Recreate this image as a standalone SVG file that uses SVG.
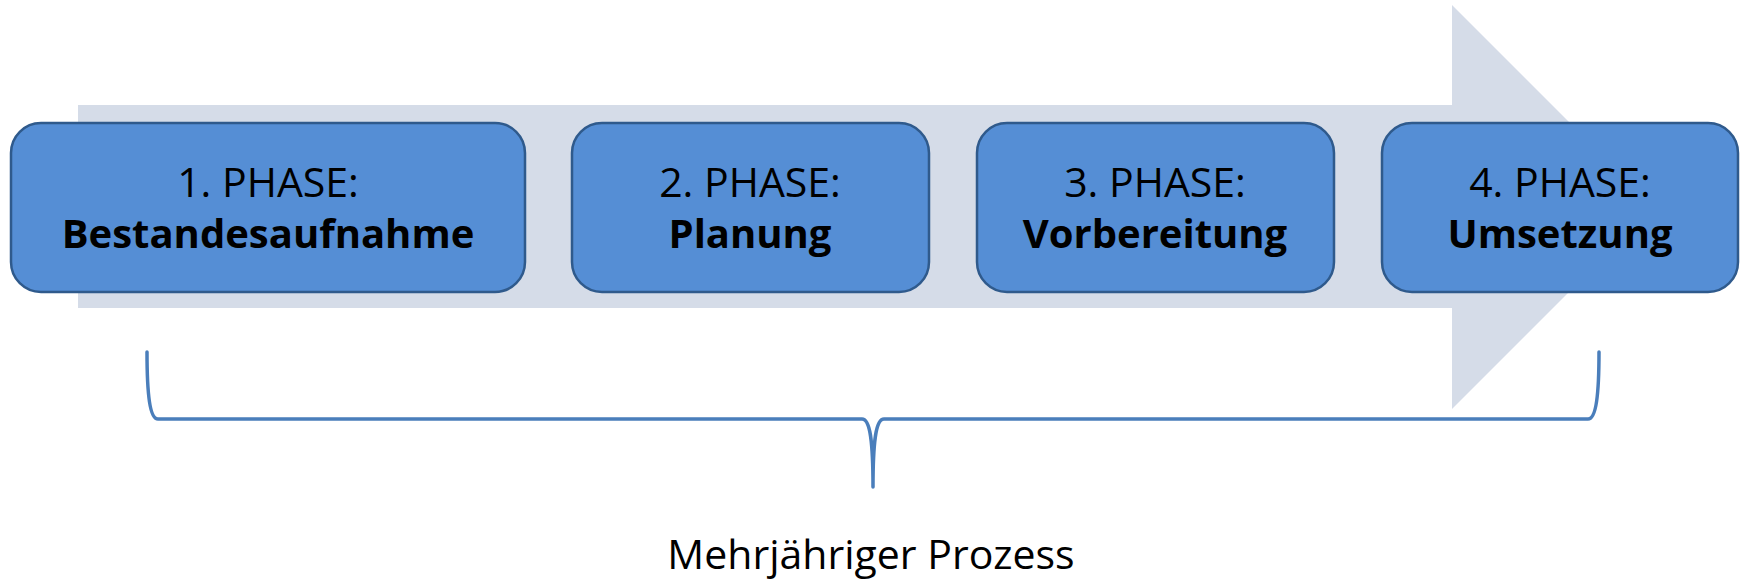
<svg xmlns="http://www.w3.org/2000/svg" width="1740" height="581" viewBox="0 0 1740 581">
<style>
.band{fill:#D5DCE8}
.box{fill:#558ED5;stroke:#2F5A8C;stroke-width:2.5}
.t{font-family:"Open Sans","Liberation Sans",sans-serif;font-size:41px;fill:#000;text-anchor:middle}
.b{font-weight:bold;font-size:40px}
.brace{fill:none;stroke:#4A7EBB;stroke-width:3.5;stroke-linecap:round;stroke-linejoin:round}
</style>
<rect width="1740" height="581" fill="#fff"/>
<g id="arrow">
<path class="band" d="M78,105 H1452 V5 L1654,207 L1452,409 V308 H78 Z"/>
</g>
<g id="phase1">
<rect class="box" x="11" y="123" width="514" height="169" rx="30"/>
<text class="t" x="268" y="197">1. PHASE:</text>
<text class="t b" x="268" y="248">Bestandesaufnahme</text>
</g>
<g id="phase2">
<rect class="box" x="572" y="123" width="357" height="169" rx="30"/>
<text class="t" x="750" y="197">2. PHASE:</text>
<text class="t b" x="750" y="248">Planung</text>
</g>
<g id="phase3">
<rect class="box" x="977" y="123" width="357" height="169" rx="30"/>
<text class="t" x="1155" y="197">3. PHASE:</text>
<text class="t b" x="1155" y="248">Vorbereitung</text>
</g>
<g id="phase4">
<rect class="box" x="1382" y="123" width="356" height="169" rx="30"/>
<text class="t" x="1560" y="197">4. PHASE:</text>
<text class="t b" x="1560" y="248">Umsetzung</text>
</g>
<g id="connectors">
<path class="brace" d="M147,352 C147,395 150,419 158,419 L862,419 C870,419 873,440 873,487 C873,440 876,419 884,419 L1588,419 C1596,419 1599,395 1599,352"/>
</g>
<g id="label">
<text class="t" x="871" y="569">Mehrjähriger Prozess</text>
</g>
</svg>
